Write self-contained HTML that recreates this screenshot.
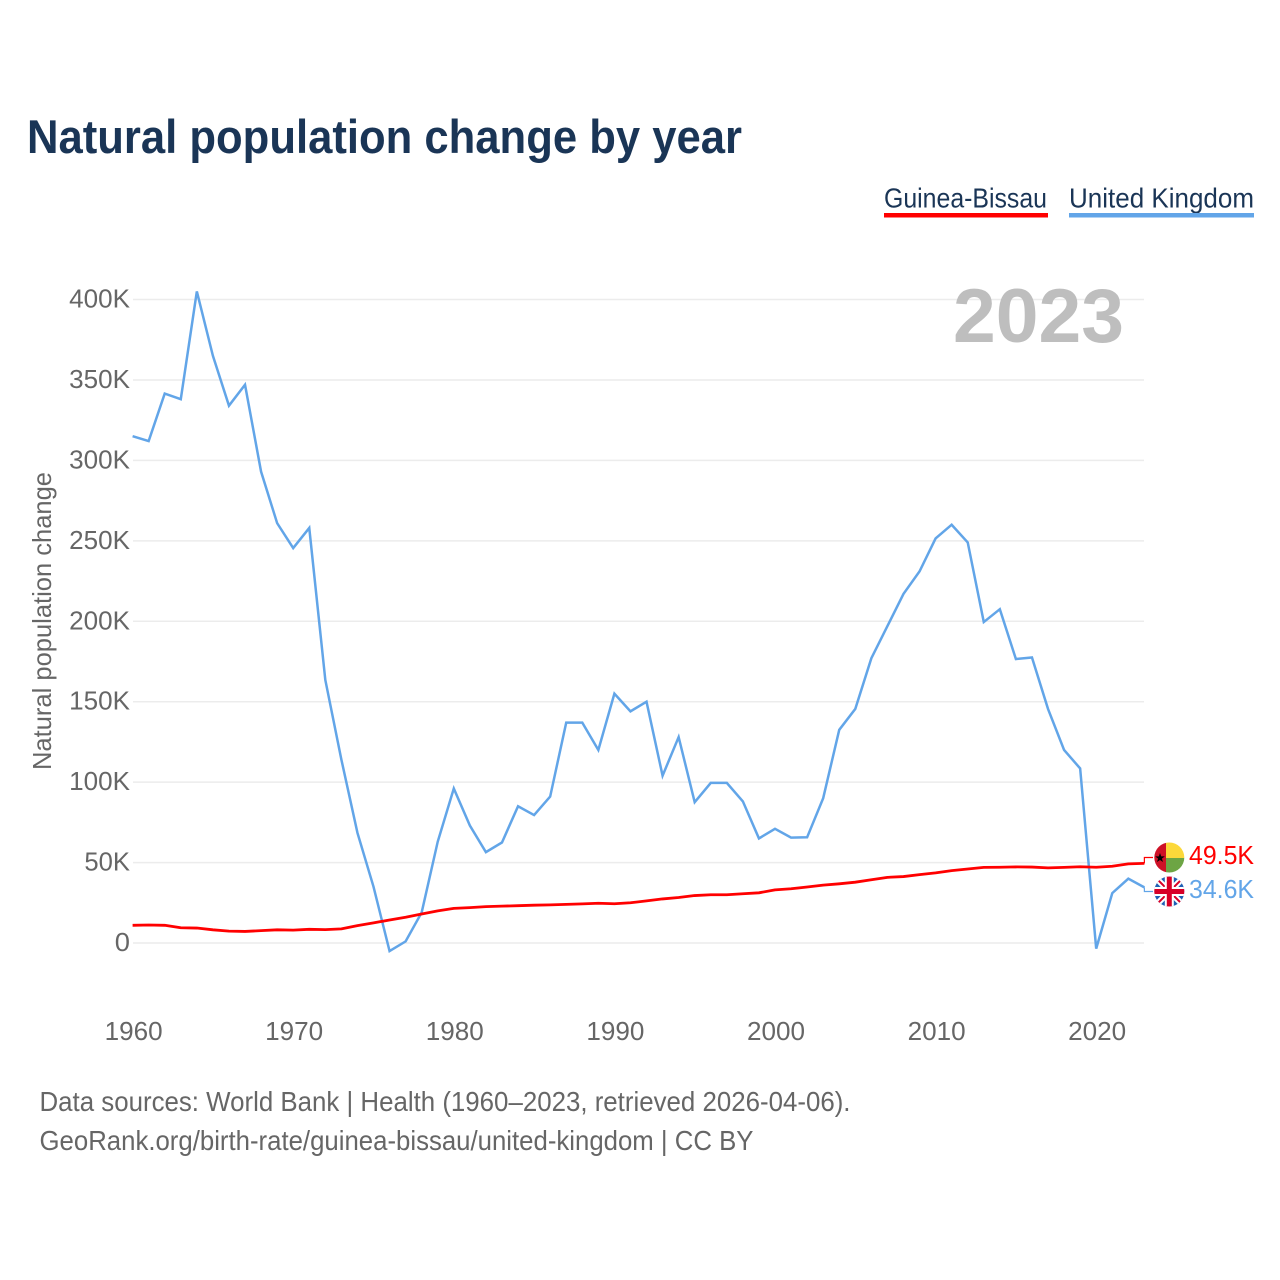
<!DOCTYPE html>
<html lang="en">
<head>
<meta charset="utf-8">
<title>Natural population change by year</title>
<style>
html,body{margin:0;padding:0;background:#fff;width:1280px;height:1280px;overflow:hidden}
svg{display:block}
text{font-family:"Liberation Sans",sans-serif}
</style>
</head>
<body>
<svg id="chart" width="1280" height="1280" viewBox="0 0 1280 1280" xmlns="http://www.w3.org/2000/svg">
  <defs>
    <clipPath id="gw-clip"><circle cx="1169.3" cy="857.5" r="15"/></clipPath>
    <clipPath id="uk-clip"><circle cx="1169.3" cy="891.5" r="15"/></clipPath>
  </defs>
  <text x="27" y="153" font-size="47" font-weight="700" fill="#1a3556" textLength="715" lengthAdjust="spacingAndGlyphs">Natural population change by year</text>

  <g>
    <text x="884" y="207.5" font-size="27.5" fill="#1a3556" textLength="163" lengthAdjust="spacingAndGlyphs">Guinea-Bissau</text>
    <rect x="884" y="213" width="164" height="4.5" fill="#ff0000"/>
  </g>
  <g>
    <text x="1069" y="207.5" font-size="27.5" fill="#1a3556" textLength="185" lengthAdjust="spacingAndGlyphs">United Kingdom</text>
    <rect x="1069" y="213" width="185" height="4.5" fill="#62a5e8"/>
  </g>

  <g id="grid"></g>
  <g id="yticks"></g>
  <g id="xticks"></g>

  <text x="953" y="342" font-size="76" font-weight="700" fill="#bebebe" textLength="171" lengthAdjust="spacingAndGlyphs">2023</text>

  <text transform="translate(51,770) rotate(-90)" x="0" y="0" font-size="26" fill="#666666" textLength="298" lengthAdjust="spacingAndGlyphs">Natural population change</text>

  <path id="line-uk" fill="none" stroke="#62a5e8" stroke-width="2.5" stroke-linejoin="miter"/>
  <path id="line-gw" fill="none" stroke="#ff0000" stroke-width="2.8" stroke-linejoin="round"/>
  <path id="conn-uk" fill="none" stroke="#62a5e8" stroke-width="1.2"/>
  <path id="conn-gw" fill="none" stroke="#ff0000" stroke-width="1.2"/>

  <g clip-path="url(#gw-clip)">
    <rect x="1154" y="842" width="12" height="31" fill="#ce1126"/>
    <rect x="1166" y="842" width="19" height="16" fill="#fcd83a"/>
    <rect x="1166" y="858" width="19" height="15" fill="#6da544"/>
    <polygon points="1160,853 1161.2,856.4 1164.8,856.4 1161.9,858.6 1163,862 1160,860 1157,862 1158.1,858.6 1155.2,856.4 1158.8,856.4" fill="#000"/>
  </g>
  <g clip-path="url(#uk-clip)">
    <rect x="1154" y="876" width="31" height="31" fill="#1f5fb4"/>
    <path d="M1154 876L1185 907M1185 876L1154 907" stroke="#fff" stroke-width="6"/>
    <path d="M1154 876L1185 907M1185 876L1154 907" stroke="#d80027" stroke-width="2"/>
    <path d="M1169.3 876V907M1154 891.5H1185" stroke="#fff" stroke-width="9"/>
    <path d="M1169.3 876V907M1154 891.5H1185" stroke="#d80027" stroke-width="5"/>
  </g>

  <text id="label-gw" x="1189" y="864" font-size="26" fill="#ff0000" textLength="65" lengthAdjust="spacingAndGlyphs"></text>
  <text id="label-uk" x="1189" y="898" font-size="26" fill="#62a5e8" textLength="65" lengthAdjust="spacingAndGlyphs"></text>

  <text x="39.5" y="1111" font-size="27.5" fill="#666666" textLength="811" lengthAdjust="spacingAndGlyphs">Data sources: World Bank | Health (1960–2023, retrieved 2026-04-06).</text>
  <a><text x="39.5" y="1150" font-size="27.5" fill="#666666" textLength="714" lengthAdjust="spacingAndGlyphs">GeoRank.org/birth-rate/guinea-bissau/united-kingdom | CC BY</text></a>
</svg>
<script>
const firstYear = 1960;
const ukValues = [315,312,341.5,338,405,365,334,347,293,261,245.5,258,163.5,114,68.5,35,-5,1,19,63,96,73,56.5,62.5,85,79.5,91,137,137,120,155,144,150,104,128,87.5,99.5,99.5,88,65,71,65.5,65.7,90,132.5,145.5,177,197,217,231,251.5,260,249,199.5,207.5,176.5,177.5,145.5,120,108.5,-3.5,31,40,34.6];
const gwValues = [11,11.2,11,9.5,9.3,8.2,7.4,7.2,7.7,8.2,8,8.5,8.3,8.8,10.8,12.5,14.3,16,18,20,21.5,22,22.6,22.9,23.2,23.5,23.7,24,24.3,24.7,24.4,25,26.2,27.4,28.3,29.5,30,30,30.6,31.2,33,33.7,34.8,36,36.8,37.8,39.3,40.8,41.3,42.5,43.6,45,46,47,47.1,47.3,47.2,46.7,47,47.4,47.1,47.7,49.2,49.5];
const yTickValues = [0,50,100,150,200,250,300,350,400];
const yTickLabels = ['0','50K','100K','150K','200K','250K','300K','350K','400K'];
const xTickValues = [1960,1970,1980,1990,2000,2010,2020];

const NS = 'http://www.w3.org/2000/svg';
function xScale(year){ return 132.6 + (year - 1960) * (1096.2 - 132.6) / 60; }
function yScale(v){ return 943 - v * (943 - 299.5) / 400; }
function linePath(vals){
  return vals.map(function(v,i){
    return (i ? 'L' : 'M') + xScale(firstYear + i).toFixed(2) + ' ' + yScale(v).toFixed(2);
  }).join('');
}
function fmtK(v){ return v.toFixed(1) + 'K'; }

const grid = document.getElementById('grid');
const yticks = document.getElementById('yticks');
const xticks = document.getElementById('xticks');

yTickValues.forEach(function(v,i){
  const ln = document.createElementNS(NS,'line');
  
  
  ln.setAttribute('x1', 133);
  ln.setAttribute('x2', 1144);
  ln.setAttribute('y1', yScale(v));
  ln.setAttribute('y2', yScale(v));
  ln.setAttribute('stroke', '#ececec');
  ln.setAttribute('stroke-width', '1.5');
  grid.appendChild(ln);

  const t = document.createElementNS(NS,'text');
  
  
  t.setAttribute('x', 130);
  t.setAttribute('y', yScale(v) + 8);
  t.setAttribute('text-anchor', 'end');
  t.setAttribute('font-size', '25.5');
  t.setAttribute('fill', '#666666');
  t.setAttribute('textLength', String(yTickLabels[i].length * 15.2));
  t.setAttribute('lengthAdjust', 'spacingAndGlyphs');
  t.textContent = yTickLabels[i];
  yticks.appendChild(t);
});

xTickValues.forEach(function(y){
  const t = document.createElementNS(NS,'text');
  
  
  t.setAttribute('x', xScale(y) + 1);
  t.setAttribute('y', 1040);
  t.setAttribute('text-anchor', 'middle');
  t.setAttribute('font-size', '25.5');
  t.setAttribute('fill', '#666666');
  t.setAttribute('textLength', '58');
  t.setAttribute('lengthAdjust', 'spacingAndGlyphs');
  t.textContent = String(y);
  xticks.appendChild(t);
});

document.getElementById('line-uk').setAttribute('d', linePath(ukValues));
document.getElementById('line-gw').setAttribute('d', linePath(gwValues));

const lastX = xScale(firstYear + ukValues.length - 1);
const gwEnd = yScale(gwValues[gwValues.length - 1]);
const ukEnd = yScale(ukValues[ukValues.length - 1]);
document.getElementById('conn-gw').setAttribute('d', 'M' + lastX + ' ' + gwEnd + 'V857.5H1153');
document.getElementById('conn-uk').setAttribute('d', 'M' + lastX + ' ' + ukEnd + 'V891.5H1153');
document.getElementById('label-gw').textContent = fmtK(gwValues[gwValues.length - 1]);
document.getElementById('label-uk').textContent = fmtK(ukValues[ukValues.length - 1]);
</script>
</body>
</html>
